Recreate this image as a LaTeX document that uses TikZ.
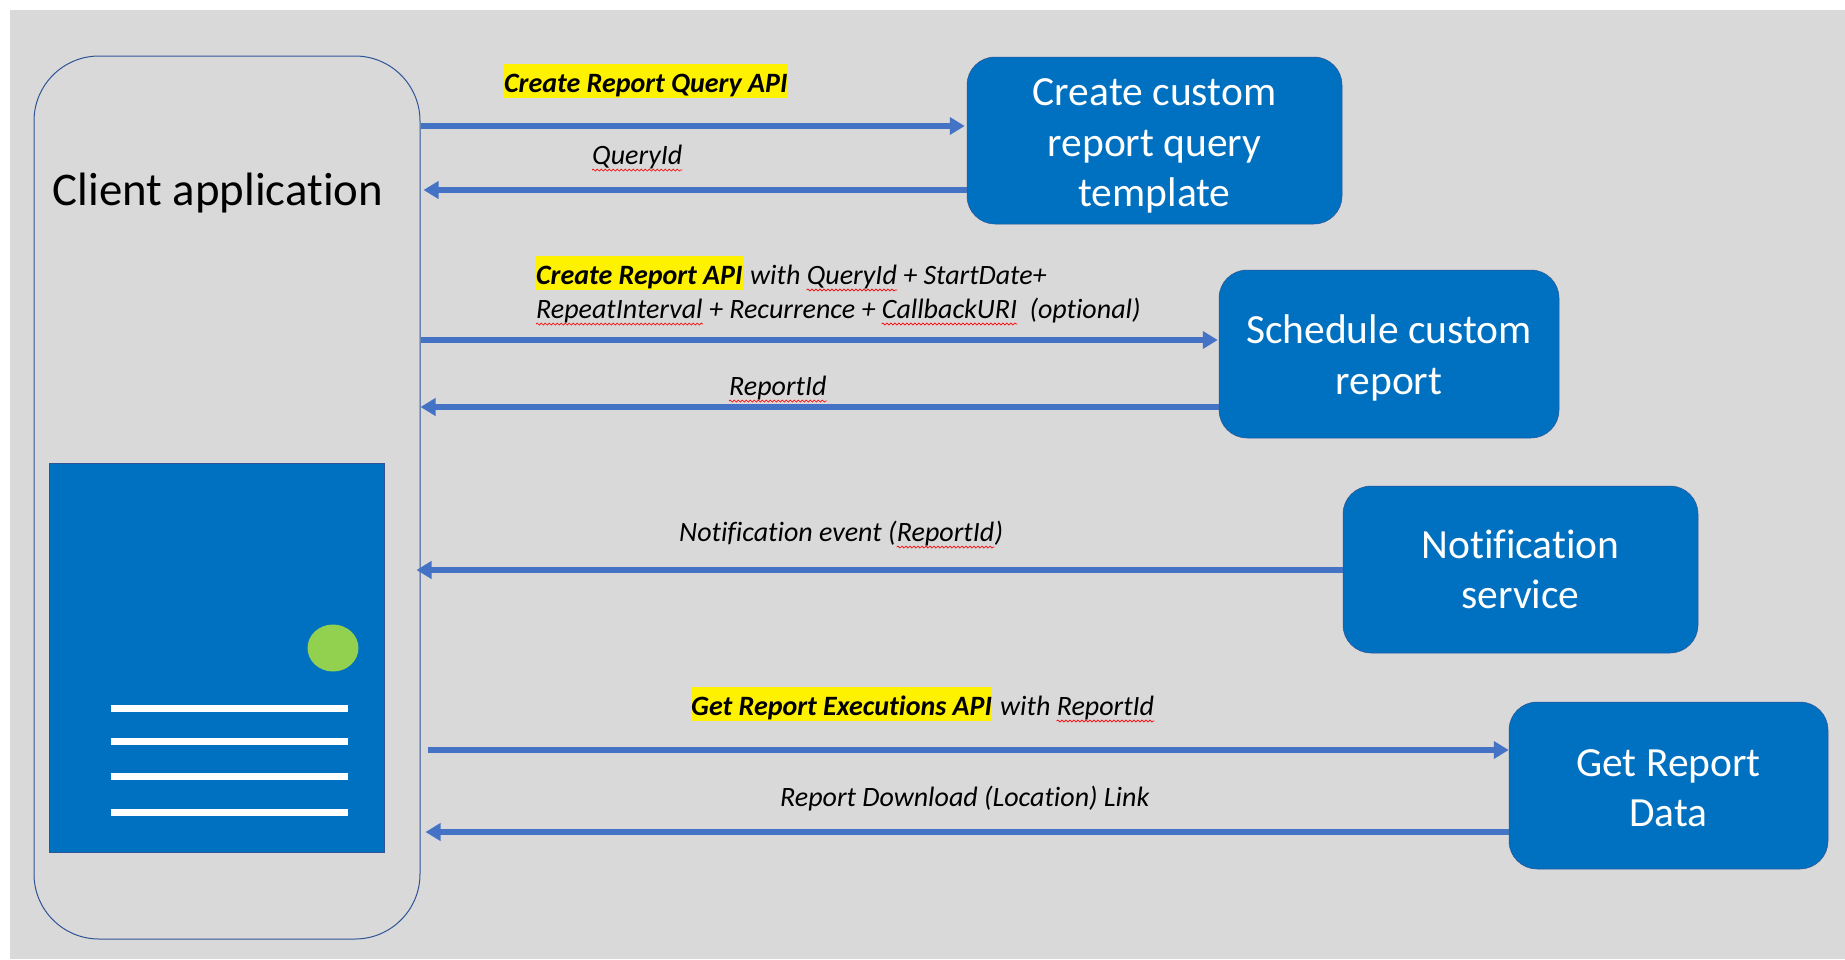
\documentclass[tikz,border=0pt]{standalone}
\usepackage{fontspec}
\setmainfont[Ligatures=NoCommon]{Carlito}
\usetikzlibrary{arrows.meta,positioning,shapes.geometric,decorations.pathmorphing}
\definecolor{panel}{HTML}{D9D9D9}
\definecolor{boxblue}{HTML}{0070C0}
\definecolor{edgeblue}{HTML}{2F5597}
\definecolor{flowblue}{HTML}{4472C4}
\definecolor{dotgreen}{HTML}{92D050}
\tikzset{
    svc/.style={rounded corners=28pt, fill=boxblue, draw=edgeblue, line width=0.5pt, inner sep=0pt, text=white, align=center, font=\fontsize{41.5}{50.5}\selectfont},
    flow/.style={line width=5.5pt, flowblue, -{Triangle[length=15pt,width=17pt]}},
    lab/.style={inner sep=0pt, anchor=base west, font=\fontsize{28}{32}\selectfont\itshape},
    api/.style={lab, fill=yellow, text height=28pt, text depth=6pt, font=\fontsize{28}{32}\selectfont\itshape\bfseries},
    squig/.style={red, line width=0.7pt, decorate, decoration={snake, amplitude=1pt, segment length=4pt}}
}
\begin{document}
\begin{tikzpicture}[x=1pt,y=-1pt]
    \useasboundingbox (0,0) rectangle (1845,959);
    \fill[white] (0,0) rectangle (1845,959);
    \fill[panel] (10,10) rectangle (1845,959);

    \node[draw=edgeblue, line width=1pt, rounded corners=65pt, inner sep=0pt, minimum width=386pt, minimum height=883pt] (client) at (227,497.5) {};
    \node[font=\fontsize{46.8}{50}\selectfont, anchor=base, inner sep=0pt] (clientname) at (218,205) {Client application};
    \node[fill=boxblue, draw=edgeblue, line width=0.5pt, inner sep=0pt, minimum width=335pt, minimum height=389pt] (screen) at (216.5,657.5) {};
    \node[ellipse, fill=dotgreen, inner sep=0pt, minimum width=51pt, minimum height=47pt] (dot) at (333,648) {};
    \foreach \y in {708.5,741.5,776.5,812.5}
        \draw[white, line width=7pt] (110.5,\y) -- (347.5,\y);

    \node[svc, minimum width=375pt, minimum height=167pt] (query) at (1154.5,140.5) {\rule{0pt}{38pt}Create custom\\report query\\template};
    \node[svc, minimum width=340pt, minimum height=168pt] (schedule) at (1389,354) {\rule{0pt}{37pt}Schedule custom\\report};
    \node[svc, minimum width=355pt, minimum height=167pt] (notify) at (1520.5,569.5) {Notification\\service};
    \node[svc, minimum width=319pt, minimum height=167pt] (getdata) at (1668.5,785.5) {\rule{0pt}{32pt}Get Report\\Data};

    \coordinate (r1) at (0,126);
    \coordinate (r2) at (0,190);
    \coordinate (r3) at (0,340);
    \coordinate (r4) at (0,407);
    \coordinate (r5) at (0,570);
    \coordinate (r6) at (0,750);
    \coordinate (r7) at (0,832);

    \draw[flow, shorten >=2pt] (client.east |- r1) -- (query.west |- r1);
    \draw[flow, shorten >=3pt] (query.west |- r2) -- (client.east |- r2);
    \draw[flow, shorten >=1pt] (client.east |- r3) -- (schedule.west |- r3);
    \draw[flow] (schedule.west |- r4) -- (client.east |- r4);
    \draw[flow, shorten >=-4pt] (notify.west |- r5) -- (client.east |- r5);
    \draw[flow, shorten <=7pt] (client.east |- r6) -- (getdata.west |- r6);
    \draw[flow, shorten >=5pt] (getdata.west |- r7) -- (client.east |- r7);

    \node[api] (l1) at (504,92) {Create Report Query API};
    \node[lab] (l2) at (592,164) {QueryId};
    \node[api] (l3) at (536,284) {Create Report API};
    \node[lab] (l3a) at (750,284) {with};
    \node[lab, base right=6pt of l3a] (l3b) {QueryId};
    \node[lab, base right=6pt of l3b] (l3c) {+ StartDate+};
    \node[lab] (l4) at (536,318) {RepeatInterval};
    \node[lab, base right=6pt of l4] (l4a) {+ Recurrence +};
    \node[lab, base right=6pt of l4a] (l4b) {CallbackURI};
    \node[lab, base right=12pt of l4b] (l4c) {(optional)};
    \node[lab] (l5) at (729,395) {ReportId};
    \node[lab] (l6) at (679,541) {Notification event (};
    \node[lab, base right=0pt of l6] (l6a) {ReportId};
    \node[lab, base right=0pt of l6a] (l6b) {)};
    \node[api] (l7) at (691,715) {Get Report Executions API};
    \node[lab] (l7a) at (1000,715) {with};
    \node[lab, base right=6pt of l7a] (l7b) {ReportId};
    \node[lab] (l8) at (780,806) {Report Download (Location) Link};

    \foreach \n in {l2,l3b,l4,l4b,l5,l6a,l7b}
        \draw[squig] ([yshift=-6pt]\n.base west) -- ([yshift=-6pt]\n.base east);
\end{tikzpicture}
\end{document}
